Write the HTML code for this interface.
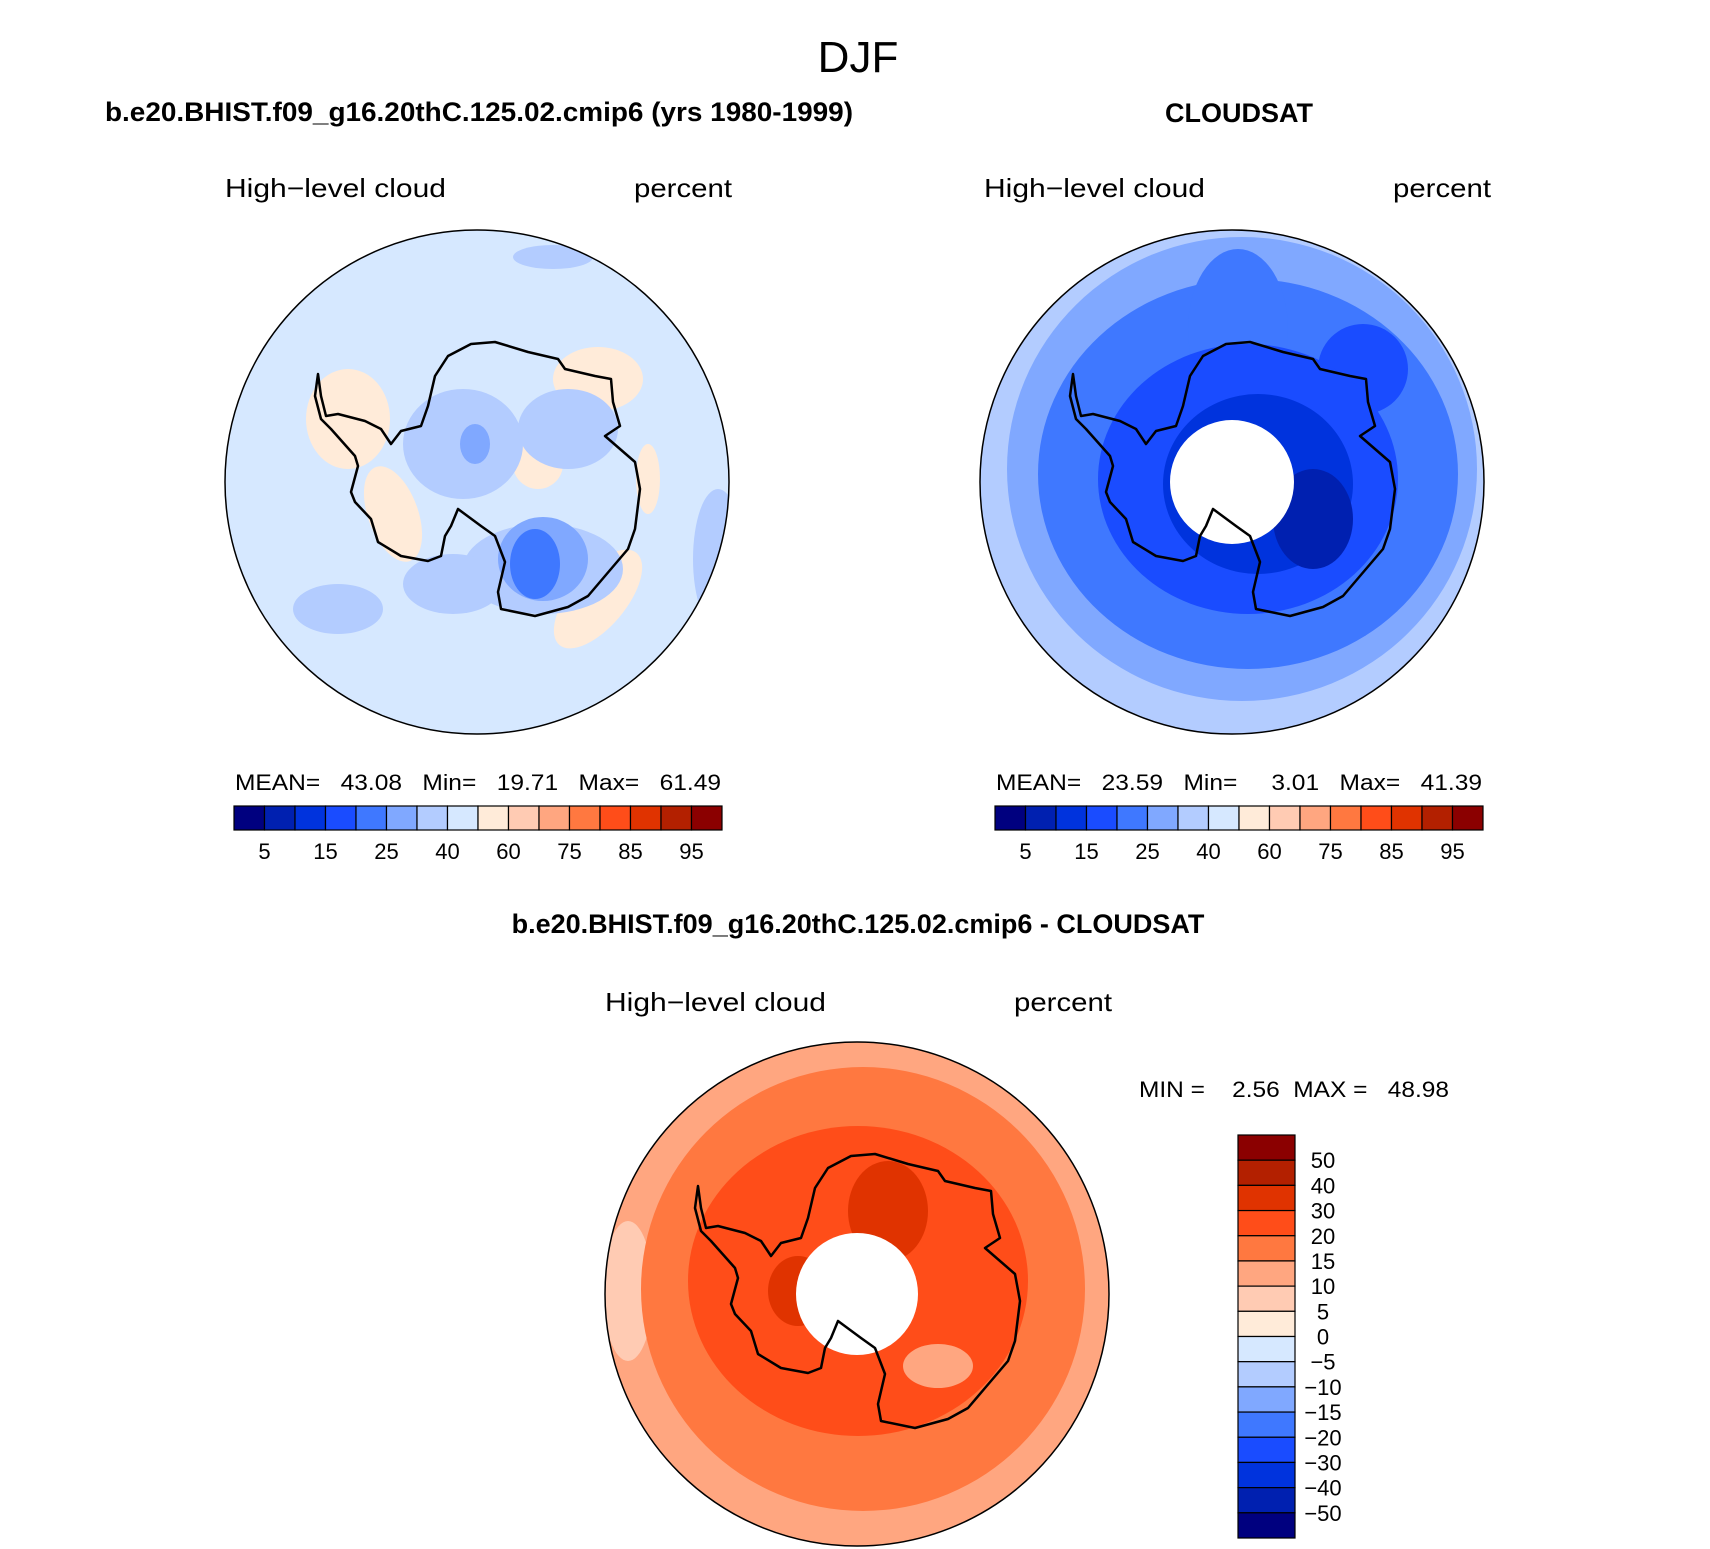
<!DOCTYPE html>
<html><head><meta charset="utf-8"><style>
body{margin:0;background:#fff}
svg{display:block}
text{font-family:"Liberation Sans",sans-serif;fill:#000}
</style></head><body>
<svg width="1710" height="1549" viewBox="0 0 1710 1549">
<defs>
<clipPath id="cL"><circle cx="479" cy="483" r="252"/></clipPath>
<path id="coast" d="M320,375 L323,397 328,417 340,415 367,422 383,430 393,445 403,432 423,427 430,407 437,377 450,357 473,345 497,343 530,353 560,360 567,370 597,377 613,380 615,403 622,427 607,437 637,463 642,490 637,530 630,550 607,577 590,597 570,608 537,617 503,610 500,593 507,563 497,537 483,527 460,510 453,527 447,537 443,557 430,562 403,557 380,543 373,520 357,503 353,493 360,467 357,457 333,430 323,420 317,397 Z" fill="none" stroke="#000" stroke-width="2.5" stroke-linejoin="round"/>
</defs>

<text x="858" y="72" font-size="44" text-anchor="middle" style="font-weight:300">DJF</text>
<text x="105" y="121" font-size="27" font-weight="bold" textLength="748" lengthAdjust="spacingAndGlyphs">b.e20.BHIST.f09_g16.20thC.125.02.cmip6 (yrs 1980-1999)</text>
<text x="1239" y="122" font-size="27" font-weight="bold" text-anchor="middle">CLOUDSAT</text>

<!-- left panel -->
<g>
<text x="225" y="197" font-size="26" textLength="221" lengthAdjust="spacingAndGlyphs">High−level cloud</text>
<text x="634" y="197" font-size="26" textLength="98" lengthAdjust="spacingAndGlyphs">percent</text>
<g transform="translate(-2,-1)">
<g clip-path="url(#cL)">
<rect x="200" y="200" width="560" height="560" fill="#D6E8FF"/>
<g fill="#FFEBD9">
<ellipse cx="350" cy="420" rx="42" ry="50"/>
<ellipse cx="395" cy="515" rx="25" ry="50" transform="rotate(-20 395 515)"/>
<ellipse cx="600" cy="380" rx="45" ry="32"/>
<ellipse cx="650" cy="480" rx="12" ry="35"/>
<ellipse cx="600" cy="600" rx="28" ry="60" transform="rotate(40 600 600)"/>
<ellipse cx="540" cy="465" rx="25" ry="25"/>
</g>
<g fill="#B3CCFF">
<ellipse cx="465" cy="445" rx="60" ry="55"/>
<ellipse cx="570" cy="430" rx="50" ry="40"/>
<ellipse cx="545" cy="570" rx="80" ry="45"/>
<ellipse cx="455" cy="585" rx="50" ry="30"/>
<ellipse cx="340" cy="610" rx="45" ry="25"/>
<ellipse cx="720" cy="560" rx="25" ry="70"/>
<ellipse cx="555" cy="258" rx="40" ry="12"/>
</g>
<g fill="#80A8FF"><ellipse cx="545" cy="560" rx="45" ry="42"/><ellipse cx="477" cy="445" rx="15" ry="20"/></g>
<ellipse cx="537" cy="565" rx="25" ry="35" fill="#3F78FF"/>
</g>
<circle cx="479" cy="483" r="252" fill="none" stroke="#000" stroke-width="1.5"/>
<use href="#coast"/>
</g>
</g>

<!-- right panel -->
<g>
<text x="984" y="197" font-size="26" textLength="221" lengthAdjust="spacingAndGlyphs">High−level cloud</text>
<text x="1393" y="197" font-size="26" textLength="98" lengthAdjust="spacingAndGlyphs">percent</text>
<g transform="translate(753,-1)">
<g clip-path="url(#cL)">
<rect x="200" y="200" width="560" height="560" fill="#B3CCFF"/>
<ellipse cx="489" cy="470" rx="235" ry="232" fill="#80A8FF"/>
<ellipse cx="495" cy="475" rx="210" ry="195" fill="#3F78FF"/>
<ellipse cx="485" cy="330" rx="50" ry="80" fill="#3F78FF"/>
<ellipse cx="610" cy="370" rx="45" ry="45" fill="#1A4CFF"/>
<ellipse cx="495" cy="480" rx="150" ry="135" fill="#1A4CFF"/>
<ellipse cx="505" cy="485" rx="95" ry="90" fill="#0033DD"/>
<ellipse cx="560" cy="520" rx="40" ry="50" fill="#0020B0"/>
<circle cx="479" cy="483" r="62" fill="#fff"/>
</g>
<circle cx="479" cy="483" r="252" fill="none" stroke="#000" stroke-width="1.5"/>
<use href="#coast"/>
</g>
</g>

<!-- stats + colorbars top -->
<text x="235" y="790" font-size="22" textLength="486" lengthAdjust="spacingAndGlyphs" xml:space="preserve">MEAN=   43.08   Min=   19.71   Max=   61.49</text>
<text x="996" y="790" font-size="22" textLength="486" lengthAdjust="spacingAndGlyphs" xml:space="preserve">MEAN=   23.59   Min=     3.01   Max=   41.39</text>
<g id="hbars"></g>

<!-- bottom -->
<text x="858" y="933" font-size="27" font-weight="bold" text-anchor="middle">b.e20.BHIST.f09_g16.20thC.125.02.cmip6 - CLOUDSAT</text>
<text x="605" y="1011" font-size="26" textLength="221" lengthAdjust="spacingAndGlyphs">High−level cloud</text>
<text x="1014" y="1011" font-size="26" textLength="98" lengthAdjust="spacingAndGlyphs">percent</text>
<text x="1139" y="1097" font-size="22" textLength="310" lengthAdjust="spacingAndGlyphs" xml:space="preserve">MIN =    2.56  MAX =   48.98</text>
<g transform="translate(378,811)">
<g clip-path="url(#cL)">
<rect x="200" y="200" width="560" height="560" fill="#FFA680"/>
<ellipse cx="250" cy="480" rx="25" ry="70" fill="#FFCBB3"/>
<ellipse cx="485" cy="478" rx="222" ry="222" fill="#FF7840"/>
<ellipse cx="480" cy="470" rx="170" ry="155" fill="#FF4D19"/>
<ellipse cx="510" cy="400" rx="40" ry="50" fill="#E03300"/>
<ellipse cx="420" cy="480" rx="30" ry="35" fill="#E03300"/>
<ellipse cx="560" cy="555" rx="35" ry="22" fill="#FFA680"/>
<circle cx="479" cy="483" r="61" fill="#fff"/>
</g>
<circle cx="479" cy="483" r="252" fill="none" stroke="#000" stroke-width="1.5"/>
<use href="#coast"/>
</g>
<g id="vbar"></g>
</svg>
<script>
const NS='http://www.w3.org/2000/svg';
const colors=['#00007F','#0020B0','#0033DD','#1A4CFF','#3F78FF','#80A8FF','#B3CCFF','#D6E8FF','#FFEBD9','#FFCBB3','#FFA680','#FF7840','#FF4D19','#E03300','#B32000','#8B0000'];
const hLevels=['5','10','15','20','25','30','40','50','60','70','75','80','85','90','95'];
const vLevels=['−50','−40','−30','−20','−15','−10','−5','0','5','10','15','20','30','40','50'];
function mk(tag,attrs,parent){const e=document.createElementNS(NS,tag);for(const k in attrs)e.setAttribute(k,attrs[k]);parent.appendChild(e);return e;}
const hb=document.getElementById('hbars');
[234,995].forEach((x0,p)=>{
  const w=488/16, y0=806, h=24;
  colors.forEach((c,i)=>{
    const r=mk('rect',{x:x0+i*w,y:y0,width:w,height:h,fill:c,stroke:'#000','stroke-width':1.2},hb);
    
    
  });
  hLevels.forEach((l,i)=>{
    if(i%2) return;
    const t=mk('text',{x:x0+(i+1)*w,y:859,'font-size':22,'text-anchor':'middle'},hb);
    t.textContent=l;
    
    
  });
});
const vb=document.getElementById('vbar');
const vh=(1538-1135)/16;
colors.slice().reverse().forEach((c,i)=>{
  const r=mk('rect',{x:1238,y:1135+i*vh,width:57,height:vh,fill:c,stroke:'#000','stroke-width':1.2},vb);
  
  
});
vLevels.slice().reverse().forEach((l,i)=>{
  const t=mk('text',{x:1323,y:1135+(i+1)*vh+8,'font-size':22,'text-anchor':'middle'},vb);
  t.textContent=l;
  
  
});
</script>
</body></html>
